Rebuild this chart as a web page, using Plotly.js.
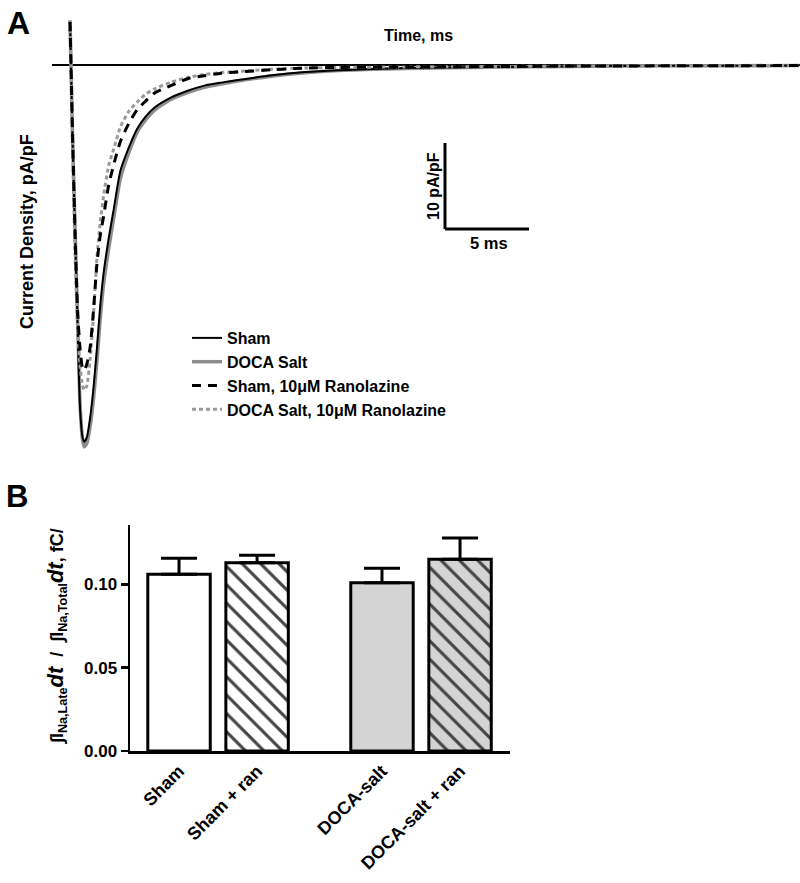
<!DOCTYPE html>
<html>
<head>
<meta charset="utf-8">
<script src="https://cdn.plot.ly/plotly-3.0.1.min.js"></script>
<style>html,body{margin:0;padding:0;background:#fff}#chart{width:800px;height:883px}</style>
</head>
<body>
<div id="chart"></div>
<script>
// ---------- Panel A data: current traces (time in ms, current density in pA/pF) ----------
const timeMs = [0, 0.06, 0.15, 0.3, 0.45, 0.6, 0.75, 0.85, 1.0, 1.2, 1.4, 1.6, 1.8, 2.0, 2.3, 2.6, 3.0, 3.5, 4.0, 4.5, 5.0, 6.0, 7.0, 8.0, 9.0, 10, 12, 14, 16, 20, 25, 30, 35, 40, 43.4];
const shamCurrent = [5, 0, -8.5, -19.5, -30, -40, -43.3, -43.8, -43.3, -41, -37.5, -33, -28, -24.2, -20.2, -16.8, -12.3, -9.6, -7.4, -6.0, -5.0, -3.8, -3.0, -2.4, -2.05, -1.75, -1.2, -0.82, -0.6, -0.35, -0.24, -0.15, -0.1, -0.08, -0.06];
const docaCurrent = [5.2, 0, -8, -19, -29.5, -39.5, -43.6, -44.4, -44, -42, -38.8, -34.5, -29.5, -25.5, -21.4, -17.8, -13.2, -10.2, -7.8, -6.4, -5.3, -4.0, -3.2, -2.6, -2.2, -1.85, -1.3, -0.9, -0.65, -0.4, -0.26, -0.16, -0.1, -0.08, -0.06];
const shamRanCurrent = [5, 0, -8, -19.5, -28.5, -33, -35.3, -35.5, -34.8, -32.8, -28.5, -23.2, -19.8, -17.6, -14, -11.6, -8.9, -6.8, -5.2, -4.2, -3.3, -2.4, -1.6, -1.25, -0.95, -0.82, -0.55, -0.35, -0.28, -0.22, -0.18, -0.12, -0.1, -0.08, -0.06];
const docaRanCurrent = [5, 0, -9, -22, -30.5, -35, -37.3, -37.8, -37.3, -34.2, -29, -22.5, -18.3, -15.2, -11.7, -9.8, -7.2, -5.4, -4.3, -3.4, -2.8, -2.0, -1.45, -1.1, -0.88, -0.75, -0.5, -0.35, -0.28, -0.22, -0.18, -0.12, -0.1, -0.08, -0.06];
const traceNames = ['Sham', 'DOCA Salt', 'Sham, 10\u03bcM Ranolazine', 'DOCA Salt, 10\u03bcM Ranolazine'];

// scale bar sizes
const scaleBarCurrent = 10; // pA/pF
const scaleBarTime = 5;     // ms

// ---------- Panel B data ----------
const barCategories = ['Sham', 'Sham + ran', 'DOCA-salt', 'DOCA-salt + ran'];
const barMeans = [0.106, 0.113, 0.101, 0.115];
const barSEM = [0.0096, 0.0044, 0.0086, 0.0128];
const yTickValues = [0, 0.05, 0.10];
const yTickLabels = ['0.00', '0.05', '0.10'];

// ---------- helpers for pixel-based layout ----------
const W = 800, H = 883;
const px = v => v / W;
const py = v => (H - v) / H;
const FONT = 'Liberation Sans, Arial, Helvetica, sans-serif';

// Panel A geometry
const aLeft = 52, aRight = 800, aTop = 10, aBottom = 455;
const pxPerMs = 16.8, pxPerUnit = 8.6, t0px = 70, zeroPy = 65;
const xRangeA = [(aLeft - t0px) / pxPerMs, (aRight - t0px) / pxPerMs];
const yRangeA = [-(aBottom - zeroPy) / pxPerUnit, -(aTop - zeroPy) / pxPerUnit];

const lineStyles = [
  {color: '#000000', width: 2, dash: 'solid'},
  {color: '#8c8c8c', width: 3.5, dash: 'solid'},
  {color: '#000000', width: 3, dash: '9px,7px'},
  {color: '#9a9a9a', width: 3, dash: '4px,3px'}
];
const currents = [shamCurrent, docaCurrent, shamRanCurrent, docaRanCurrent];
const drawOrder = [1, 0, 3, 2];

const traces = [];
drawOrder.forEach(k => {
  traces.push({
    type: 'scatter', mode: 'lines', x: timeMs, y: currents[k], name: traceNames[k],
    xaxis: 'x', yaxis: 'y',
    line: Object.assign({shape: 'spline', smoothing: 0.6}, lineStyles[k]),
    legendrank: k + 1,
    hoverinfo: 'skip'
  });
});

// Panel B bars
const groupGap = 0.6;
const barPositions = barCategories.map((c, i) => i + (i >= 2 ? groupGap : 0));
const barFill = ['#ffffff', '#ffffff', '#d4d4d4', '#d4d4d4'];
traces.push({
  type: 'bar', x: barPositions, y: barMeans, xaxis: 'x2', yaxis: 'y2', showlegend: false,
  width: 0.8,
  marker: {
    color: barFill,
    line: {color: '#000', width: 3},
    pattern: {
      shape: ['', '\\', '', '\\'],
      fgcolor: ['#000000', '#000000', '#000000', '#000000'],
      fgopacity: 1,
      size: 13, solidity: 0.24, fillmode: 'overlay'
    }
  },
  error_y: {type: 'data', symmetric: false, array: barSEM, arrayminus: barSEM.map(() => 0),
            color: '#000', thickness: 3, width: 18},
  hoverinfo: 'skip'
});

// scale bar anchor (panel A data units)
const sbT = (445 - t0px) / pxPerMs, sbI = -(229 - zeroPy) / pxPerUnit;

const layout = {
  width: W, height: H,
  margin: {l: 0, r: 0, t: 0, b: 0},
  paper_bgcolor: '#fff', plot_bgcolor: 'rgba(0,0,0,0)',
  font: {family: FONT, size: 16, color: '#000', weight: 700},
  showlegend: true,
  legend: {x: px(187), y: py(321), xanchor: 'left', yanchor: 'top', bgcolor: 'rgba(0,0,0,0)',
           font: {family: FONT, size: 16, weight: 700}, tracegroupgap: 0, traceorder: 'normal',
           itemwidth: 30},
  xaxis: {domain: [px(aLeft), px(aRight)], range: xRangeA, showgrid: false, zeroline: false,
          showline: false, showticklabels: false, ticks: '', anchor: 'y', fixedrange: true},
  yaxis: {domain: [py(aBottom), py(aTop)], range: yRangeA, showgrid: false, zeroline: true,
          zerolinecolor: '#000', zerolinewidth: 2.5, showline: false, showticklabels: false, ticks: '',
          anchor: 'x', fixedrange: true},
  xaxis2: {domain: [px(130), px(510)], range: [-0.628, 4.24], anchor: 'y2', showgrid: false, zeroline: false,
           showline: true, linecolor: '#000', linewidth: 2.5, ticks: '',
           tickmode: 'array', tickvals: barPositions, ticktext: barCategories, tickangle: -45,
           tickfont: {family: FONT, size: 18, weight: 700}, fixedrange: true},
  yaxis2: {domain: [py(751), py(525)], range: [0, 0.1356], anchor: 'x2', showgrid: false, zeroline: false,
           showline: true, linecolor: '#000', linewidth: 2.5, ticks: 'outside', ticklen: 7, tickwidth: 2.5,
           tickcolor: '#000', tickmode: 'array', tickvals: yTickValues, ticktext: yTickLabels,
           tickfont: {family: FONT, size: 17, weight: 700}, fixedrange: true},
  shapes: [
    {type: 'line', xref: 'x', yref: 'y', x0: sbT, x1: sbT, y0: sbI, y1: sbI + scaleBarCurrent,
     line: {color: '#000', width: 3}},
    {type: 'line', xref: 'x', yref: 'y', x0: sbT, x1: sbT + scaleBarTime, y0: sbI, y1: sbI,
     line: {color: '#000', width: 3}}
  ],
  annotations: [
    {text: 'A', xref: 'paper', yref: 'paper', x: px(5), y: py(23), xanchor: 'left', yanchor: 'middle',
     showarrow: false, font: {family: FONT, size: 32, weight: 700}},
    {text: 'B', xref: 'paper', yref: 'paper', x: px(4), y: py(496), xanchor: 'left', yanchor: 'middle',
     showarrow: false, font: {family: FONT, size: 31, weight: 700}},
    {text: 'Time, ms', xref: 'paper', yref: 'paper', x: px(418), y: py(35), xanchor: 'center', yanchor: 'middle',
     showarrow: false, font: {family: FONT, size: 16, weight: 700}},
    {text: 'Current Density, pA/pF', xref: 'paper', yref: 'paper', x: px(27), y: py(232), xanchor: 'center',
     yanchor: 'middle', textangle: -90, showarrow: false, font: {family: FONT, size: 18, weight: 700}},
    {text: '10 pA/pF', xref: 'paper', yref: 'paper', x: px(433), y: py(186), xanchor: 'center', yanchor: 'middle',
     textangle: -90, showarrow: false, font: {family: FONT, size: 16, weight: 700}},
    {text: '5 ms', xref: 'paper', yref: 'paper', x: px(489), y: py(243), xanchor: 'center', yanchor: 'middle',
     showarrow: false, font: {family: FONT, size: 16.5, weight: 700}},
    {text: '\u222BI<sub>Na,Late</sub><span style="font-size:22px"><i>dt</i></span>  /  \u222BI<sub>Na,Total</sub><span style="font-size:22px"><i>dt</i></span>, fC/',
     xref: 'paper', yref: 'paper', x: px(56), y: py(636), xanchor: 'center', yanchor: 'middle',
     textangle: -90, showarrow: false, font: {family: FONT, size: 18, weight: 700}}
  ]
};

Plotly.newPlot('chart', traces, layout, {staticPlot: true, displayModeBar: false});
</script>
</body>
</html>
